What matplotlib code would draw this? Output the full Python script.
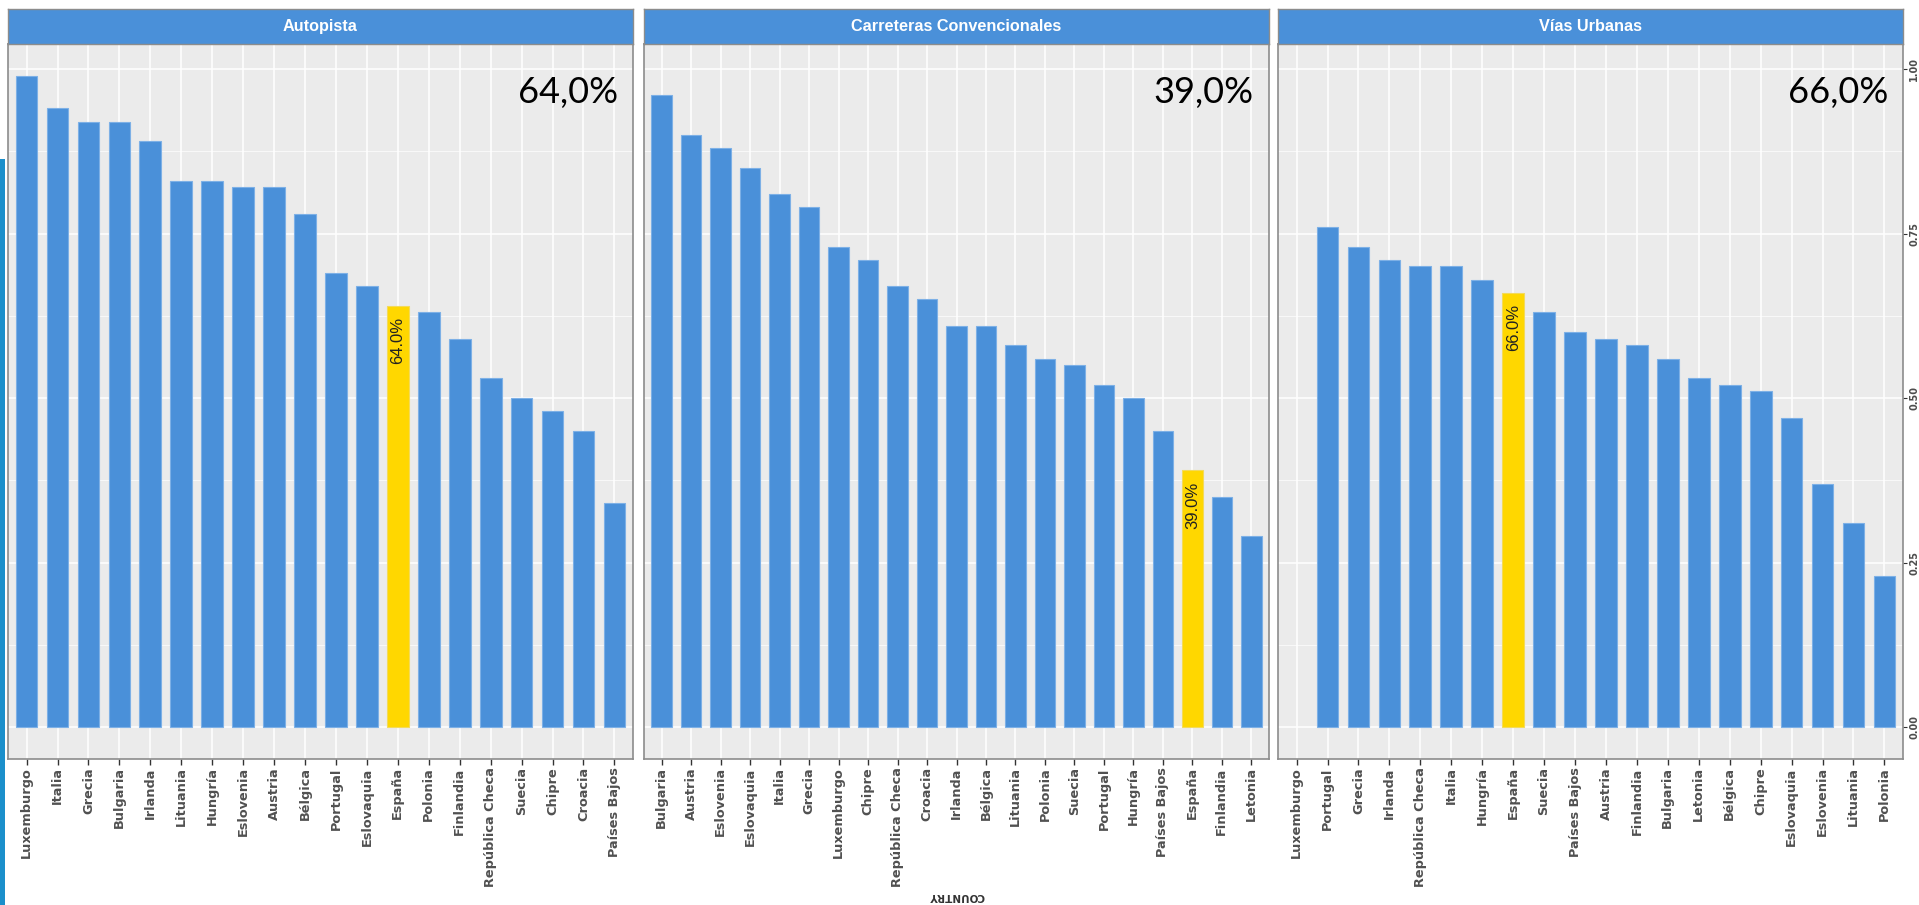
import numpy as np
import matplotlib
matplotlib.use("Agg")
import matplotlib.pyplot as plt
from matplotlib.patches import Rectangle
from matplotlib import font_manager as fm

# ---------------- data ----------------
panel_titles = ["Autopista", "Carreteras Convencionales", "Vías Urbanas"]
headline = ["64,0%", "39,0%", "66,0%"]

countries_autopista = ["Luxemburgo", "Italia", "Grecia", "Bulgaria", "Irlanda", "Lituania",
                       "Hungría", "Eslovenia", "Austria", "Bélgica", "Portugal", "Eslovaquia",
                       "España", "Polonia", "Finlandia", "República Checa", "Suecia", "Chipre",
                       "Croacia", "Países Bajos"]
values_autopista = [0.99, 0.94, 0.92, 0.92, 0.89, 0.83, 0.83, 0.82, 0.82, 0.78, 0.69, 0.67,
                    0.64, 0.63, 0.59, 0.53, 0.50, 0.48, 0.45, 0.34]

countries_convencionales = ["Bulgaria", "Austria", "Eslovenia", "Eslovaquia", "Italia", "Grecia",
                            "Luxemburgo", "Chipre", "República Checa", "Croacia", "Irlanda",
                            "Bélgica", "Lituania", "Polonia", "Suecia", "Portugal", "Hungría",
                            "Países Bajos", "España", "Finlandia", "Letonia"]
values_convencionales = [0.96, 0.90, 0.88, 0.85, 0.81, 0.79, 0.73, 0.71, 0.67, 0.65, 0.61,
                         0.61, 0.58, 0.56, 0.55, 0.52, 0.50, 0.45, 0.39, 0.35, 0.29]

countries_urbanas = ["Luxemburgo", "Portugal", "Grecia", "Irlanda", "República Checa", "Italia",
                     "Hungría", "España", "Suecia", "Países Bajos", "Austria", "Finlandia",
                     "Bulgaria", "Letonia", "Bélgica", "Chipre", "Eslovaquia", "Eslovenia",
                     "Lituania", "Polonia"]
values_urbanas = [np.nan, 0.76, 0.73, 0.71, 0.70, 0.70, 0.68, 0.66, 0.63, 0.60, 0.59, 0.58,
                  0.56, 0.53, 0.52, 0.51, 0.47, 0.37, 0.31, 0.23]

highlight = "España"
y_ticks = [0.0, 0.25, 0.50, 0.75, 1.00]
y_minor = [0.125, 0.375, 0.625, 0.875]

# ---------------- style ----------------
W, H = 1919, 905
BLUE = "#4A90D9"
YELLOW = "#FFD700"
PANEL_BG = "#EBEBEB"
names = {f.name for f in fm.fontManager.ttflist}
if "Liberation Sans Narrow" in names:
    strip_font, strip_size = "Liberation Sans Narrow", 14
else:
    strip_font, strip_size = "Liberation Sans", 11.7
big_font = "Lato" if "Lato" in names else "DejaVu Sans"

fig = plt.figure(figsize=(W / 100, H / 100), dpi=100)
fig.patch.set_facecolor("white")

panel_x = [8, 644, 1278]
panel_w = 625
panel_top, panel_bot = 44, 759
strip_top = 9

data = [(countries_autopista, values_autopista),
        (countries_convencionales, values_convencionales),
        (countries_urbanas, values_urbanas)]

for k, (cats, vals) in enumerate(data):
    x0 = panel_x[k]
    ax = fig.add_axes([x0 / W, (H - panel_bot) / H, panel_w / W, (panel_bot - panel_top) / H])
    ax.set_facecolor(PANEL_BG)
    n = len(cats)
    xs = np.arange(n)
    vals_arr = np.array(vals, dtype=float)
    ok = np.isfinite(vals_arr)
    colors = [YELLOW if c == highlight else BLUE for c in cats]
    edges = ["#F3DA5A" if c == highlight else "#7DB0E6" for c in cats]
    ax.bar(xs[ok], vals_arr[ok], width=0.7,
           color=[c for c, o in zip(colors, ok) if o],
           edgecolor=[e for e, o in zip(edges, ok) if o],
           linewidth=0.8, zorder=3)
    ax.set_xlim(-0.6, n - 1 + 0.6)
    ax.set_ylim(-0.0486, 1.038)
    ax.set_axisbelow(True)
    ax.set_yticks(y_ticks)
    ax.set_yticks(y_minor, minor=True)
    ax.grid(which="major", color="white", linewidth=1.1)
    ax.grid(which="minor", axis="y", color="white", linewidth=0.5)
    ax.set_xticks(xs)
    ax.set_xticklabels(cats, rotation=90, fontsize=9.3, fontweight="bold",
                       color="#505050", family="DejaVu Sans")
    ax.tick_params(axis="x", length=4, width=1, color="#333333", pad=2)
    ax.tick_params(which="minor", length=0)
    for sp in ax.spines.values():
        sp.set_color("#8C8C8C")
        sp.set_linewidth(1.2)
    if k == 2:
        ax.yaxis.tick_right()
        ax.set_yticklabels([f"{t:.2f}" for t in y_ticks], rotation=90, va="center",
                           fontsize=7, fontweight="bold", color="#4D4D4D",
                           family="DejaVu Sans")
        ax.tick_params(axis="y", which="major", length=3, color="#333333", pad=1.5)
    else:
        ax.tick_params(axis="y", left=False, labelleft=False)

    # label inside highlighted bar
    for xi, c, v in zip(xs, cats, vals_arr):
        if c == highlight:
            ax.annotate(f"{v * 100:.1f}%", xy=(xi, v), xytext=(0, -8),
                        textcoords="offset points", rotation=90, ha="center", va="top",
                        fontsize=12, color="#222222", family="Liberation Sans", zorder=4)

    # big headline percentage
    ax.text(1 - 15 / panel_w, (panel_bot - 103) / (panel_bot - panel_top), headline[k],
            transform=ax.transAxes, ha="right", va="baseline", fontsize=26,
            family=big_font, color="black", zorder=5)

    # strip
    sax = fig.add_axes([x0 / W, (H - panel_top) / H, panel_w / W, (panel_top - strip_top) / H])
    sax.set_facecolor(BLUE)
    sax.set_xticks([])
    sax.set_yticks([])
    for sp in sax.spines.values():
        sp.set_color("#8C8C8C")
        sp.set_linewidth(1.0)
    sax.text(0.5, 0.5, panel_titles[k], transform=sax.transAxes, ha="center", va="center",
             color="white", fontsize=strip_size, fontweight="bold", family=strip_font)

# upside-down axis title
fig.text(957 / W, 1 - 896 / H, "COUNTRY", rotation=180, ha="center", va="center",
         fontsize=7.5, fontweight="bold", color="#333333", family="DejaVu Sans")

# slide accent stripe on the left edge
fig.patches.append(Rectangle((0, 0), 5 / W, (H - 159) / H, transform=fig.transFigure,
                             facecolor="#1B8FCB", edgecolor="none"))

fig.savefig("out.png", dpi=100, facecolor="white")
